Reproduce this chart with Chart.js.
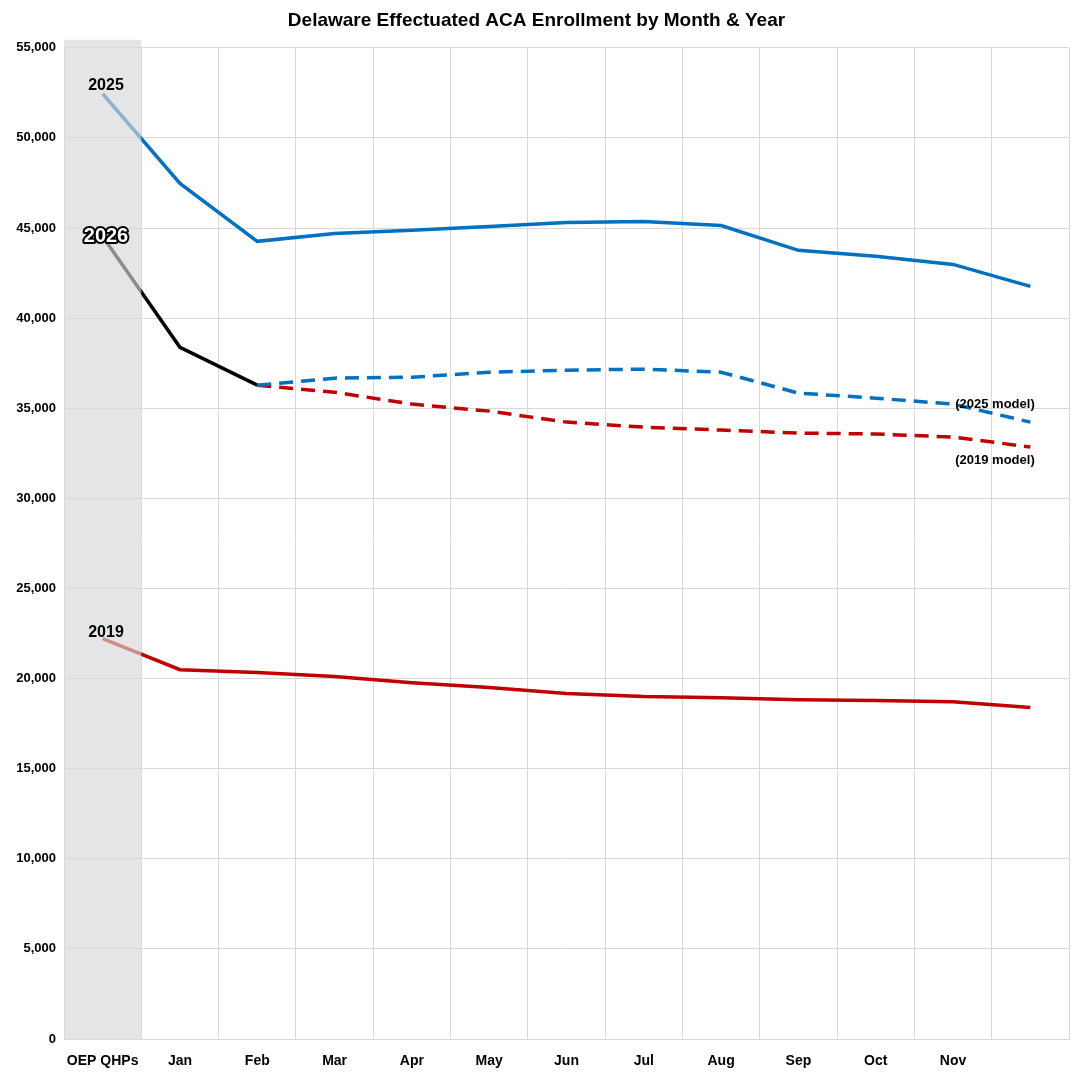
<!DOCTYPE html>
<html><head><meta charset="utf-8">
<script src="https://cdn.jsdelivr.net/npm/chart.js@4"></script>
<style>body{margin:0;background:#fff}#wrap{width:1081px;height:1080px}</style>
</head><body><div id="wrap"><canvas id="c"></canvas></div>
<script>
const months = ['OEP QHPs','Jan','Feb','Mar','Apr','May','Jun','Jul','Aug','Sep','Oct','Nov',''];
const y2025 = [52450,47470,44260,44700,44870,45090,45310,45360,45140,43760,43430,42980,41760];
const y2026 = [44530,38380,36280,null,null,null,null,null,null,null,null,null,null];
const model2025 = [null,null,36280,36670,36720,37000,37110,37170,37000,35840,35560,35230,34230];
const model2019 = [null,null,36280,35890,35230,34840,34230,33950,33790,33620,33570,33400,32850];
const y2019 = [22210,20490,20330,20110,19770,19500,19170,19000,18940,18830,18780,18720,18390];

const band = {
  id:'band',
  beforeDraw(ch){const c=ch.ctx;c.save();c.fillStyle='#fff';c.fillRect(0,0,ch.width,ch.height);c.restore();},
  afterDatasetsDraw(ch){
    const c=ch.ctx,x=ch.scales.x,a=ch.chartArea;
    const x0=a.left, x1=(x.getPixelForValue(0)+x.getPixelForValue(1))/2;
    c.save();c.fillStyle='rgba(215,215,215,0.65)';c.fillRect(x0,a.top-8,x1-x0,a.bottom-a.top+8);
    const y=ch.scales.y;
    c.font='bold 16px "Liberation Sans", Arial';c.textAlign='center';c.textBaseline='middle';
    c.fillStyle='#000';
    c.fillText('2025',106,y.getPixelForValue(52450)-8);
    c.fillText('2019',106,y.getPixelForValue(22210)-6);
    c.font='bold 20px "Liberation Sans", Arial';
    c.lineWidth=4;c.strokeStyle='#000';c.lineJoin='round';
    c.strokeText('2026',106,y.getPixelForValue(44530));
    c.fillStyle='#fff';c.fillText('2026',106,y.getPixelForValue(44530));
    c.font='bold 13px "Liberation Sans", Arial';c.fillStyle='#000';
    c.fillText('(2025 model)',995,y.getPixelForValue(35200));
    c.fillText('(2019 model)',995,y.getPixelForValue(32100));
    c.restore();
  }
};

const base = {fill:false,pointRadius:0,borderWidth:3.5,tension:0,spanGaps:false};
new Chart(document.getElementById('c'),{
  type:'line',
  data:{labels:months,datasets:[
    {...base,label:'2025',data:y2025,borderColor:'#0070c0'},
    {...base,label:'2025 model',data:model2025,borderColor:'#0070c0',borderDash:[14,8]},
    {...base,label:'2019 model',data:model2019,borderColor:'#c00000',borderDash:[14,8]},
    {...base,label:'2026',data:y2026,borderColor:'#000'},
    {...base,label:'2019',data:y2019,borderColor:'#c00000'}
  ]},
  options:{
    responsive:true,maintainAspectRatio:false,animation:false,
    layout:{padding:{left:4,right:12,top:0,bottom:0}},
    plugins:{legend:{display:false},tooltip:{enabled:false},
      title:{display:true,text:'Delaware Effectuated ACA Enrollment by Month & Year',color:'#000',
        font:{family:'"Liberation Sans", Arial',size:19,weight:'bold'},padding:{top:9,bottom:16}}},
    scales:{
      x:{offset:true,grid:{offset:true,color:'#d9d9d9',drawTicks:false},border:{color:'#d9d9d9'},
        afterFit(s){s.height=41;},
        ticks:{color:'#000',padding:14,maxRotation:0,minRotation:0,autoSkip:false,
          font:{family:'"Liberation Sans", Arial',size:14,weight:'bold'}}},
      y:{min:0,max:55000,grid:{color:'#d9d9d9',drawTicks:false},border:{display:false},
        afterFit(s){s.width=60;},
        ticks:{stepSize:5000,color:'#000',padding:8,font:{family:'"Liberation Sans", Arial',size:13,weight:'bold'},
          callback:v=>v.toLocaleString('en-US')}}
    }
  },
  plugins:[band]
});
</script></body></html>
